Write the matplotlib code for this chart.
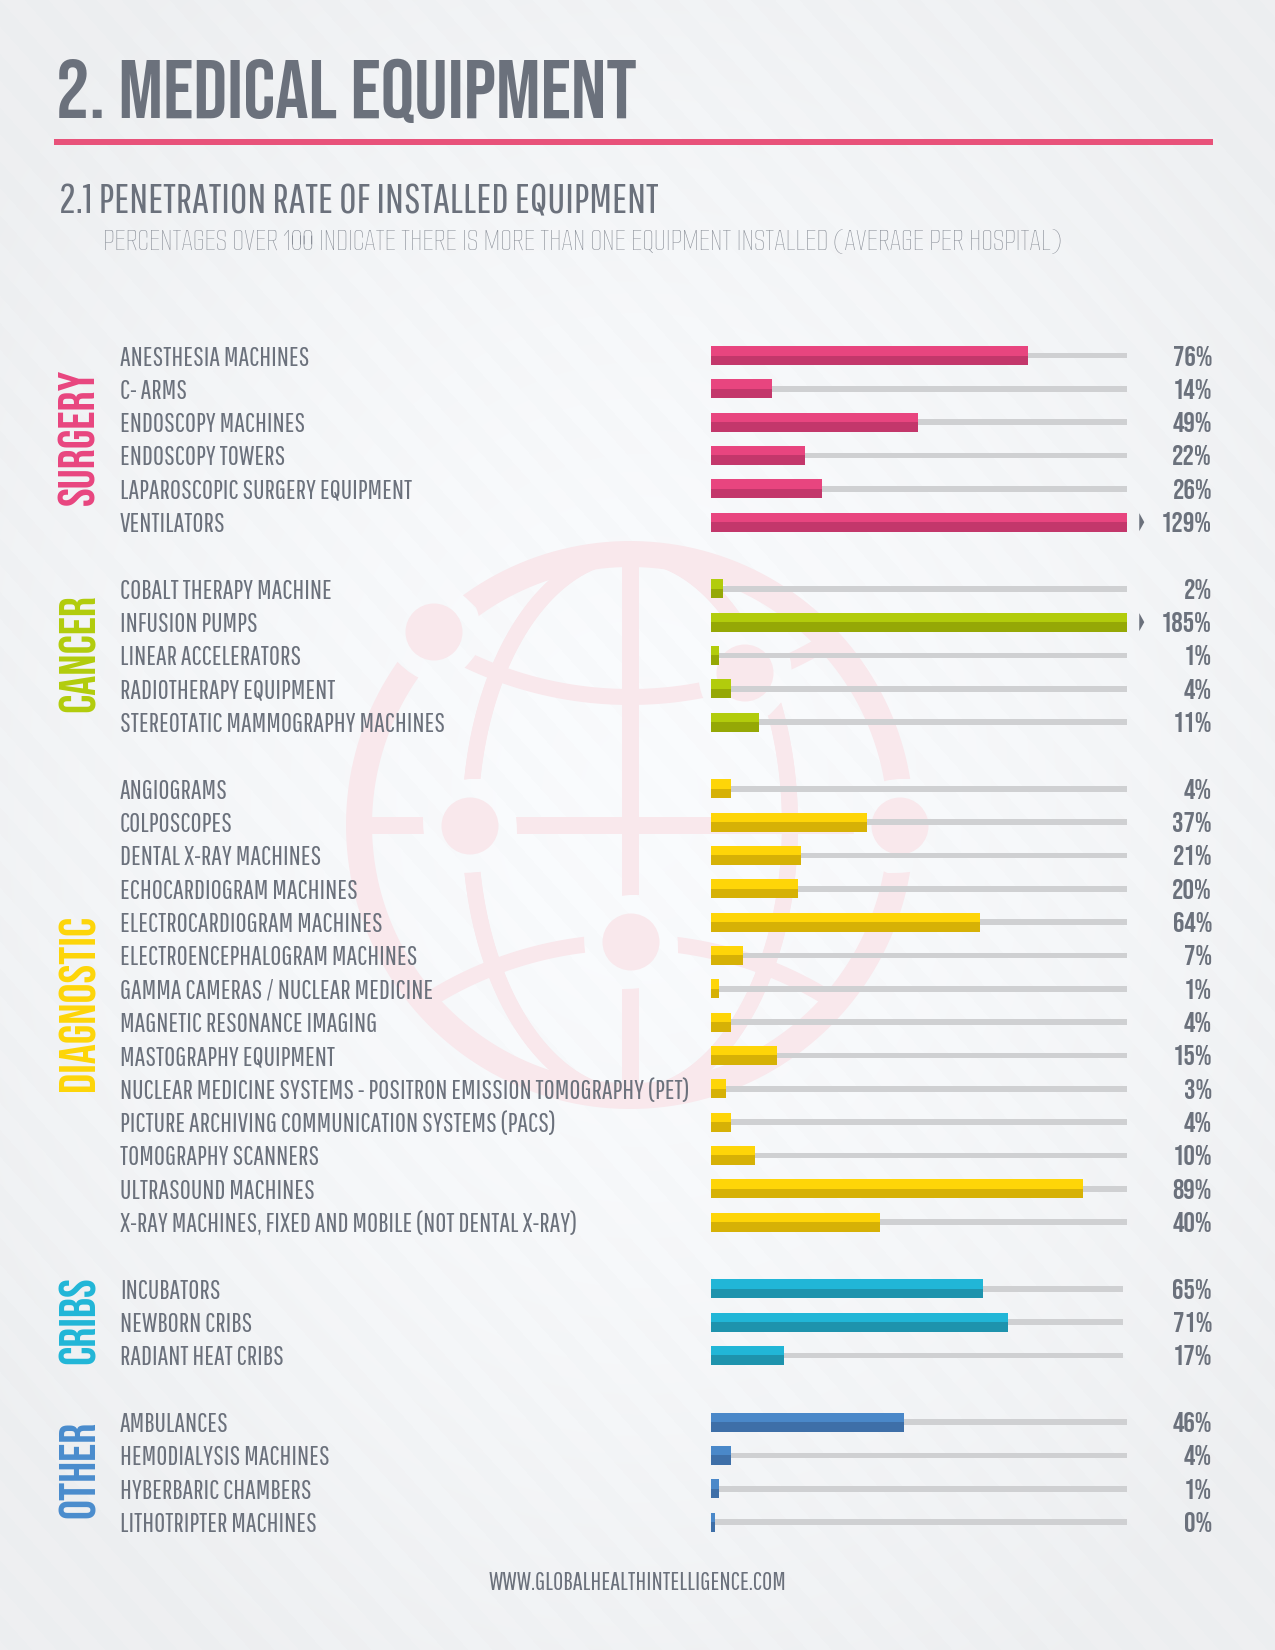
import numpy as np
import matplotlib
matplotlib.use("Agg")
import matplotlib.pyplot as plt
from matplotlib.patches import Rectangle
from matplotlib.path import Path
from matplotlib.patches import PathPatch
from matplotlib.transforms import blended_transform_factory

# ---------- data ----------
surgery_labels = ["ANESTHESIA MACHINES", "C- ARMS", "ENDOSCOPY MACHINES", "ENDOSCOPY TOWERS",
                  "LAPAROSCOPIC SURGERY EQUIPMENT", "VENTILATORS"]
surgery_values = [76, 14, 49, 22, 26, 129]
surgery_lengths = [76.2, 14.7, 49.6, 22.5, 26.6, 100]

cancer_labels = ["COBALT THERAPY MACHINE", "INFUSION PUMPS", "LINEAR ACCELERATORS",
                 "RADIOTHERAPY EQUIPMENT", "STEREOTATIC MAMMOGRAPHY MACHINES"]
cancer_values = [2, 185, 1, 4, 11]
cancer_lengths = [2.8, 100, 1.8, 4.8, 11.6]

diagnostic_labels = ["ANGIOGRAMS", "COLPOSCOPES", "DENTAL X-RAY MACHINES", "ECHOCARDIOGRAM MACHINES",
                     "ELECTROCARDIOGRAM MACHINES", "ELECTROENCEPHALOGRAM MACHINES",
                     "GAMMA CAMERAS / NUCLEAR MEDICINE", "MAGNETIC RESONANCE IMAGING",
                     "MASTOGRAPHY EQUIPMENT",
                     "NUCLEAR MEDICINE SYSTEMS - POSITRON EMISSION TOMOGRAPHY (PET)",
                     "PICTURE ARCHIVING COMMUNICATION SYSTEMS (PACS)", "TOMOGRAPHY SCANNERS",
                     "ULTRASOUND MACHINES", "X-RAY MACHINES, FIXED AND MOBILE (NOT DENTAL X-RAY)"]
diagnostic_values = [4, 37, 21, 20, 64, 7, 1, 4, 15, 3, 4, 10, 89, 40]
diagnostic_lengths = [4.8, 37.5, 21.5, 20.8, 64.6, 7.6, 1.8, 4.8, 15.7, 3.5, 4.8, 10.6, 89.4, 40.5]

cribs_labels = ["INCUBATORS", "NEWBORN CRIBS", "RADIANT HEAT CRIBS"]
cribs_values = [65, 71, 17]
cribs_lengths = [65.3, 71.4, 17.5]

other_labels = ["AMBULANCES", "HEMODIALYSIS MACHINES", "HYBERBARIC CHAMBERS", "LITHOTRIPTER MACHINES"]
other_values = [46, 4, 1, 0]
other_lengths = [46.3, 4.8, 1.8, 0.8]

group_names = ["SURGERY", "CANCER", "DIAGNOSTIC", "CRIBS", "OTHER"]
group_labels = [surgery_labels, cancer_labels, diagnostic_labels, cribs_labels, other_labels]
group_values = [surgery_values, cancer_values, diagnostic_values, cribs_values, other_values]
group_lengths = [surgery_lengths, cancer_lengths, diagnostic_lengths, cribs_lengths, other_lengths]
group_track = [100, 100, 100, 99, 100]
light = ["#e8457f", "#b2cc0c", "#fed508", "#21b6d7", "#4a88c9"]
dark = ["#c3376b", "#95a806", "#d6b106", "#1e93ad", "#3e6fa8"]
name_col = ["#e8457f", "#b2cc0c", "#fed508", "#21b6d7", "#4a8ccd"]

GREY = "#6b717c"
BEBAS = ["Bebas Neue", "Liberation Sans Narrow", "DejaVu Sans"]
BOOK = ["Pathway Gothic One", "Liberation Sans Narrow", "DejaVu Sans"]
THIN = ["Smooch Sans", "Liberation Sans Narrow", "DejaVu Sans"]

W, H = 1275, 1650
fig = plt.figure(figsize=(W / 100, H / 100), dpi=100)

# ---------- background ----------
bg = fig.add_axes([0, 0, 1, 1], zorder=0)
bg.set_xlim(0, W); bg.set_ylim(H, 0); bg.axis("off")
yy, xx = np.mgrid[0:H, 0:W]
r = np.sqrt(((xx - 640) / 800.0) ** 2 + ((yy - 800) / 1000.0) ** 2)
base = 253 - 12 * np.clip(r, 0, 1) ** 1.6
ang = np.radians(48)
phase = (xx * np.sin(ang) - yy * np.cos(ang)) / 36.0
stripe = np.where((phase % 1) < 0.5, 0.8, -0.8)
g = (base + stripe) / 255.0
img = np.dstack([g * 0.985, g * 0.992, g])
bg.imshow(np.clip(img, 0, 1), extent=(0, W, H, 0), aspect="auto", zorder=0, interpolation="bilinear")
bg.set_xlim(0, W); bg.set_ylim(H, 0)

# ---------- globe watermark ----------
PINK = "#f9e8ec"
cx, cy, Rm = 630, 825, 271
nodes = [(434, 632), (470, 826), (900, 826), (745, 673), (631, 942)]
verts = [(0, 0), (W, 0), (W, H), (0, H), (0, 0)]
codes = [Path.MOVETO, Path.LINETO, Path.LINETO, Path.LINETO, Path.CLOSEPOLY]
for (nx, ny) in nodes:
    c = Path.circle((nx, ny), 47)
    # reversed direction leaves a hole in the clip region
    verts += list(c.vertices[::-1])
    codes += [Path.MOVETO] + [Path.CURVE4] * (len(c.vertices) - 2) + [Path.CLOSEPOLY]
clip = Path(verts, codes)

def globe_line(x, y, lw):
    ln, = bg.plot(x, y, color=PINK, lw=lw * 0.72, solid_capstyle="butt", zorder=1)
    ln.set_clip_path(PathPatch(clip, transform=bg.transData))

t = np.linspace(0, 2 * np.pi, 400)
globe_line(cx + Rm * np.cos(t), cy + Rm * np.sin(t), 26)
globe_line(cx + 160 * np.cos(t), cy + Rm * np.sin(t), 16)
globe_line(cx - 160 * np.cos(t), cy + Rm * np.sin(t), 16)
globe_line([cx, cx], [cy - Rm, cy + Rm], 17)
globe_line([cx - Rm, cx + Rm], [cy, cy], 17)
for (ly, lR, s) in [(319, 378, 1), (1320, 378, -1)]:
    dx = np.linspace(-262, 262, 200)
    py = ly + s * np.sqrt(lR ** 2 - dx ** 2)
    keep = (dx ** 2 + (py - cy) ** 2) < Rm ** 2
    globe_line((cx + dx)[keep], py[keep], 16)
for (nx, ny) in nodes:
    bg.add_patch(plt.Circle((nx, ny), 28.5, color=PINK, lw=0, zorder=2))

# ---------- rule and headings ----------
bg.add_patch(Rectangle((54, 139), 1159, 6, color="#e8527a", lw=0, zorder=3))
fig.text(56 / W, 1 - 118 / H, "2. MEDICAL EQUIPMENT", family=BEBAS, fontsize=60, color=GREY, va="baseline", ha="left")
fig.text(59 / W, 1 - 213 / H, "2.1 PENETRATION RATE OF INSTALLED EQUIPMENT", family=BOOK, fontsize=30.4, color=GREY, va="baseline", ha="left")
fig.text(103 / W, 1 - 250 / H, "PERCENTAGES OVER 100 INDICATE THERE IS MORE THAN ONE EQUIPMENT INSTALLED (AVERAGE PER HOSPITAL)",
         family=THIN, fontsize=22.3, color="#8a8f98", va="baseline", ha="left")
fig.text(637.5 / W, 1 - 1590 / H, "WWW.GLOBALHEALTHINTELLIGENCE.COM", family=BOOK, fontsize=17.9, color=GREY, va="baseline", ha="center")

# ---------- bars ----------
x0, x1 = 711.2, 1127.2
row_h = 33.33
top = 355.5 - row_h / 2
n_rows = 36
ax = fig.add_axes([x0 / W, 1 - (top + n_rows * row_h) / H, (x1 - x0) / W, n_rows * row_h / H], zorder=2)
ax.set_xlim(0, 100); ax.set_ylim(n_rows - 0.5, -0.5)
ax.axis("off")
ax.patch.set_alpha(0)
fx = blended_transform_factory(fig.transFigure, ax.transData)

BAR_H = 0.57
TRACK_H = 0.17
row = 0
for gi, labels in enumerate(group_labels):
    first = row
    for lab, val, ln in zip(labels, group_values[gi], group_lengths[gi]):
        ax.barh(row, group_track[gi], height=TRACK_H, color="#cfd0d2", zorder=1)
        ax.barh(row - BAR_H / 4, ln, height=BAR_H / 2, color=light[gi], zorder=2)
        ax.barh(row + BAR_H / 4, ln, height=BAR_H / 2, color=dark[gi], zorder=2)
        ax.text(120 / W, row, lab, transform=fx, family=BOOK, fontsize=19.4, color=GREY, va="center_baseline", ha="left")
        ax.text(1212 / W, row, f"{val}%", transform=fx, family=BEBAS, fontsize=20.5, color=GREY, va="center_baseline", ha="right")
        if val > 100:
            ax.fill([102.9, 104.1, 102.9], [row - 0.27, row, row + 0.27], color=GREY, lw=0, clip_on=False, zorder=2)
        row += 1
    ax.text(76.5 / W, (first + row - 1) / 2 - 0.07, group_names[gi], transform=fx, family=BEBAS, fontsize=36,
            color=name_col[gi], rotation=90, va="center", ha="center")
    row += 1

fig.savefig("out.png", dpi=100)
